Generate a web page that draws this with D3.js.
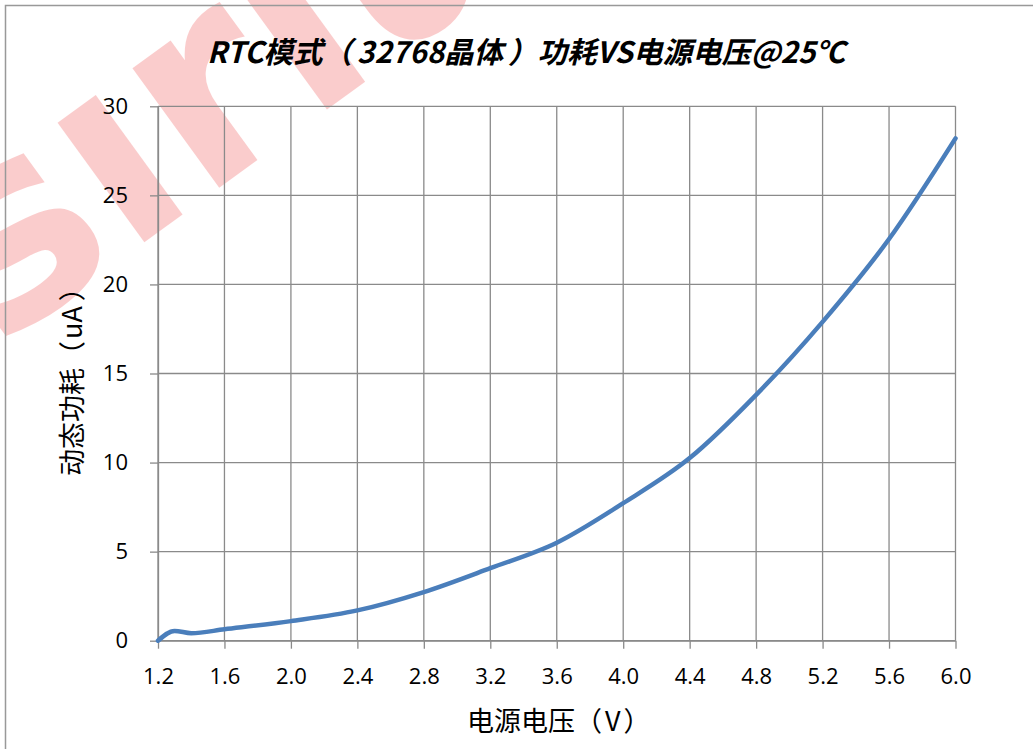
<!DOCTYPE html>
<html>
<head>
<meta charset="utf-8">
<script src="https://cdn.jsdelivr.net/npm/d3@7/dist/d3.min.js"></script>
<style>
  html, body { margin: 0; padding: 0; background: #fff; }
  svg { display: block; }
</style>
</head>
<body>
<svg id="chart" width="1033" height="749"></svg>
<script>
// ---- data ----
const voltage = [1.2, 1.3, 1.4, 1.6, 2.0, 2.4, 2.8, 3.2, 3.6, 4.0, 4.4, 4.8, 5.2, 5.6, 6.0];
const current = [0, 0.55, 0.42, 0.64, 1.1, 1.7, 2.73, 4.07, 5.5, 7.72, 10.25, 13.8, 17.9, 22.55, 28.2];
const xTicks = [1.2, 1.6, 2.0, 2.4, 2.8, 3.2, 3.6, 4.0, 4.4, 4.8, 5.2, 5.6, 6.0];
const yTicks = [0, 5, 10, 15, 20, 25, 30];
const titleText = "RTC模式（32768晶体）功耗VS电源电压@25℃";
const xLabel = "电源电压（V）";
const yLabel = "动态功耗（uA）";
const watermark = "sırıus";

(function () {
const svg = d3.select("#chart");
const W = 1033, H = 749;
const pLeft = 158, pRight = 955.5, pTop = 106.3, pBottom = 640.7;
const gridColor = "#8a8a8a";
const font = "'Noto Sans CJK SC', 'Open Sans', sans-serif";

svg.append("rect").attr("width", W).attr("height", H).attr("fill", "#fff");

// watermark (faded, behind the chart)
svg.append("text")
  .attr("transform", "translate(-4,350) rotate(-36)")
  .attr("font-family", "'DejaVu Sans', sans-serif")
  .attr("font-weight", "bold")
  .attr("font-size", 270)
  .attr("fill", "#ee3030")
  .attr("opacity", 0.24)
  .text(watermark);

// outer border
svg.append("rect")
  .attr("x", 5.5).attr("y", 5.5).attr("width", 1200).attr("height", 1000)
  .attr("fill", "none").attr("stroke", "#999").attr("stroke-width", 1.5);

const x = d3.scaleLinear().domain([1.2, 6.0]).range([pLeft, pRight]);
const y = d3.scaleLinear().domain([0, 30]).range([pBottom, pTop]);

// gridlines
const g = svg.append("g");
g.selectAll("line.v").data(xTicks).join("line").attr("class", "v")
  .attr("x1", d => x(d)).attr("x2", d => x(d))
  .attr("y1", pTop).attr("y2", pBottom)
  .attr("stroke", gridColor).attr("stroke-width", 1.3);
g.selectAll("line.h").data(yTicks).join("line").attr("class", "h")
  .attr("x1", pLeft).attr("x2", pRight)
  .attr("y1", d => y(d)).attr("y2", d => y(d))
  .attr("stroke", gridColor).attr("stroke-width", 1.3);

// axes
const xAxis = d3.axisBottom(x).tickValues(xTicks).tickSize(8).tickSizeOuter(0)
  .tickPadding(20).tickFormat(d3.format(".1f"));
const gx = svg.append("g").attr("transform", `translate(0,${pBottom})`).call(xAxis);
const yAxis = d3.axisLeft(y).tickValues(yTicks).tickSize(8).tickSizeOuter(0)
  .tickPadding(22).tickFormat(d3.format("d"));
const gy = svg.append("g").attr("transform", `translate(${pLeft},0)`).call(yAxis);
[gx, gy].forEach(a => {
  a.select(".domain").attr("stroke", gridColor).attr("stroke-width", 1.3);
  a.selectAll(".tick line").attr("stroke", gridColor).attr("stroke-width", 1.3);
  a.selectAll(".tick text").attr("fill", "#000").attr("font-size", 22)
    .attr("font-family", "'Open Sans', sans-serif");
});

// curve
const line = d3.line().x(d => x(d[0])).y(d => y(d[1])).curve(d3.curveMonotoneX);
svg.append("path")
  .datum(voltage.map((v, i) => [v, current[i]]))
  .attr("d", line)
  .attr("fill", "none")
  .attr("stroke", "#4a7ebb")
  .attr("stroke-width", 4.5)
  .attr("stroke-linecap", "round")
  .attr("stroke-linejoin", "round");

// helper: split text around full-width parens and nudge spacing
function spaced(sel, str, innerDx, closeDx) {
  const parts = str.split(/([（）])/).filter(s => s.length);
  let prev = null;
  parts.forEach(p => {
    let dx = 0;
    if (p === "）") dx = closeDx;
    else if (prev === "（") dx = innerDx;
    sel.append("tspan").attr("dx", dx).text(p);
    prev = p;
  });
}

// title
const t = svg.append("text")
  .attr("x", 526).attr("y", 63)
  .attr("text-anchor", "middle")
  .attr("font-family", font)
  .attr("font-weight", "bold")
  .attr("font-style", "italic")
  .attr("font-size", 29.5)
  .attr("fill", "#000");
spaced(t, titleText, 5, 5);

// axis titles
const xl = svg.append("text")
  .attr("x", 467).attr("y", 731)
  .attr("font-family", font)
  .attr("font-size", 27)
  .attr("fill", "#000");
spaced(xl, xLabel, 3, 3);

const yl = svg.append("text")
  .attr("transform", "translate(82,476) rotate(-90)")
  .attr("font-family", font)
  .attr("font-size", 27)
  .attr("fill", "#000");
spaced(yl, yLabel, 2, 5);
})();
</script>
</body>
</html>
